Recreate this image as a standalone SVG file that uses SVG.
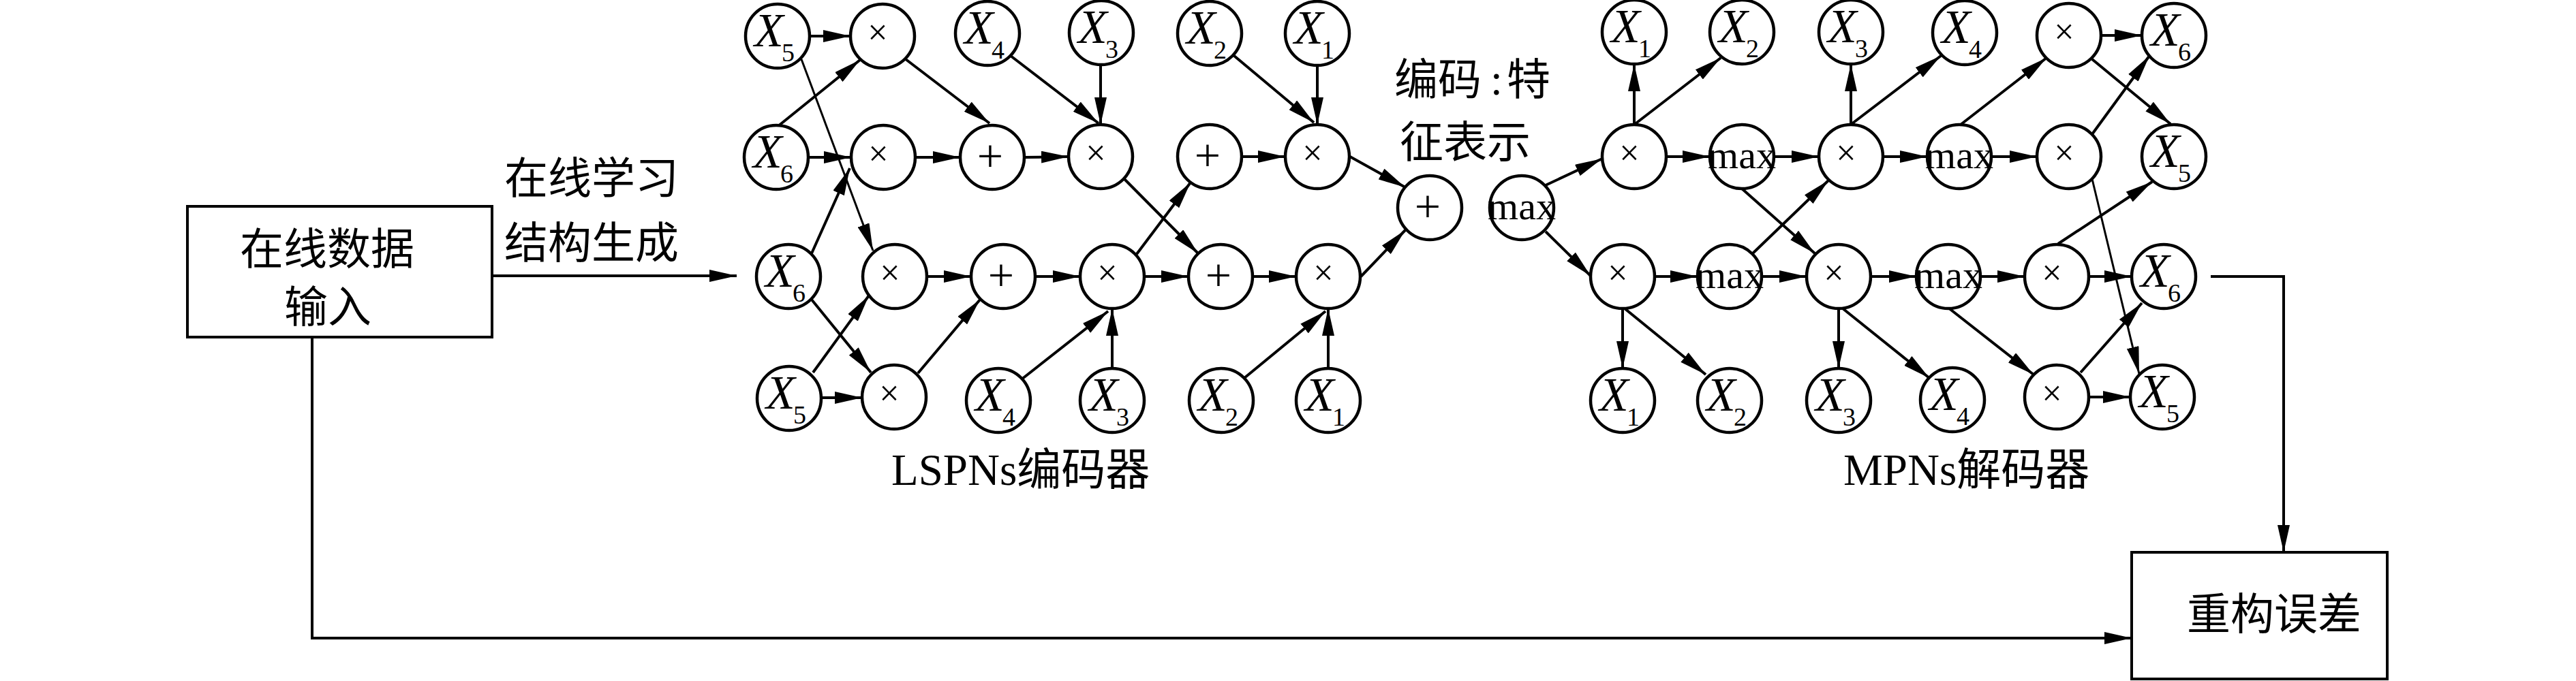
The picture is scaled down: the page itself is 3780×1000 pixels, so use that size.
<svg xmlns="http://www.w3.org/2000/svg" width="3780" height="1000" viewBox="0 0 3780 1000">
<defs>
<marker id="ah" viewBox="0 0 40 18" refX="40" refY="9" markerWidth="40" markerHeight="18" markerUnits="userSpaceOnUse" orient="auto"><path d="M0,0 L40,9 L0,18 z" fill="#000"/></marker>
<style>
.n circle{fill:#fff;stroke:#000;stroke-width:4.5}
.box{fill:#fff;stroke:#000;stroke-width:4}
.e line,.e polyline{stroke:#000;stroke-width:4;fill:none;marker-end:url(#ah)}
.e .t{stroke-width:3}
.xv{font-family:"Liberation Serif",serif;font-style:italic;font-size:70px}
.sb{font-family:"Liberation Serif",serif;font-size:38px}
.op{font-family:"Liberation Serif",serif;text-anchor:middle}
.mul{font-size:52px}
.add{font-size:68px}
.mx{font-size:58px}
.cn{font-family:"Liberation Serif","Noto Sans CJK SC",serif;font-size:64px}
.lb{font-family:"Liberation Serif","Noto Sans CJK SC",serif;font-size:65px}
</style>
</defs>
<rect width="3780" height="1000" fill="#fff"/>
<g id="connectors" class="e">
<line x1="722" y1="405" x2="1081" y2="405"/>
<polyline points="3244,406 3351,406 3351,811"/>
<polyline points="458,495 458,937 3128,937"/>
<line x1="1188" y1="53" x2="1248" y2="53"/>
<line x1="1142" y1="185" x2="1262" y2="88"/>
<line class="t" x1="1176" y1="87" x2="1281" y2="368"/>
<line x1="1186" y1="231" x2="1249" y2="231"/>
<line x1="1329" y1="87" x2="1452" y2="181"/>
<line x1="1343" y1="231" x2="1409" y2="231"/>
<line x1="1483" y1="82" x2="1612" y2="181"/>
<line x1="1615" y1="95" x2="1615" y2="183"/>
<line x1="1503" y1="231" x2="1568" y2="230"/>
<line x1="1191" y1="372" x2="1247" y2="247"/>
<line x1="1650" y1="263" x2="1758" y2="372"/>
<line x1="1668" y1="373" x2="1747" y2="268"/>
<line x1="1191" y1="440" x2="1278" y2="547"/>
<line x1="1193" y1="547" x2="1275" y2="434"/>
<line x1="1205" y1="584" x2="1265" y2="584"/>
<line x1="1360" y1="406" x2="1425" y2="406"/>
<line x1="1347" y1="548" x2="1438" y2="440"/>
<line x1="1519" y1="406" x2="1585" y2="406"/>
<line x1="1499" y1="557" x2="1626" y2="457"/>
<line x1="1632" y1="541" x2="1632" y2="453"/>
<line x1="1679" y1="406" x2="1744" y2="406"/>
<line x1="1811" y1="82" x2="1928" y2="180"/>
<line x1="1933" y1="96" x2="1933" y2="183"/>
<line x1="1822" y1="230" x2="1886" y2="230"/>
<line x1="1981" y1="230" x2="2062" y2="275"/>
<line x1="1838" y1="406" x2="1902" y2="406"/>
<line x1="1826" y1="555" x2="1945" y2="457"/>
<line x1="1949" y1="541" x2="1949" y2="453"/>
<line x1="1997" y1="406" x2="2062" y2="338"/>
<line x1="2268" y1="272" x2="2351" y2="233"/>
<line x1="2268" y1="340" x2="2334" y2="405"/>
<line x1="2398" y1="183" x2="2398" y2="94"/>
<line x1="2398" y1="183" x2="2525" y2="85"/>
<line x1="2445" y1="230" x2="2509" y2="230"/>
<line x1="2603" y1="230" x2="2669" y2="230"/>
<line x1="2556" y1="277" x2="2663" y2="372"/>
<line x1="2572" y1="372" x2="2683" y2="265"/>
<line x1="2716" y1="183" x2="2716" y2="94"/>
<line x1="2717" y1="182" x2="2848" y2="82"/>
<line x1="2763" y1="230" x2="2828" y2="230"/>
<line x1="2428" y1="406" x2="2491" y2="406"/>
<line x1="2585" y1="406" x2="2651" y2="406"/>
<line x1="2381" y1="453" x2="2381" y2="541"/>
<line x1="2384" y1="453" x2="2503" y2="550"/>
<line x1="2698" y1="453" x2="2698" y2="541"/>
<line x1="2704" y1="453" x2="2831" y2="555"/>
<line x1="2745" y1="406" x2="2812" y2="406"/>
<line x1="2877" y1="183" x2="3003" y2="85"/>
<line x1="2922" y1="230" x2="2989" y2="230"/>
<line x1="3083" y1="52" x2="3143" y2="52"/>
<line x1="3070" y1="87" x2="3185" y2="182"/>
<line x1="3070" y1="197" x2="3154" y2="82"/>
<line class="t" x1="3070" y1="263" x2="3139" y2="549"/>
<line x1="3020" y1="358" x2="3158" y2="267"/>
<line x1="2906" y1="406" x2="2971" y2="406"/>
<line x1="2859" y1="452" x2="2984" y2="550"/>
<line x1="3065" y1="406" x2="3128" y2="406"/>
<line x1="3053" y1="547" x2="3143" y2="445"/>
<line x1="3065" y1="583" x2="3126" y2="583"/>
</g>
<g id="input-box"><rect class="box" x="275" y="303" width="447" height="192"/><text class="cn" x="480" y="388" text-anchor="middle">在线数据</text><text class="cn" x="481" y="473" text-anchor="middle">输入</text></g>
<g id="error-box"><rect class="box" x="3128" y="811" width="375" height="186"/><text class="cn" x="3337" y="924" text-anchor="middle">重构误差</text></g>
<g id="label-learn"><text class="cn" x="740" y="284">在线学习</text><text class="cn" x="740" y="379">结构生成</text></g>
<g id="label-feature"><text class="cn" x="2046" y="139">编码<tspan x="2187">:</tspan><tspan x="2211">特</tspan></text><text class="cn" x="2054" y="231">征表示</text></g>
<g id="label-encoder"><text class="lb" x="1308" y="712">LSPNs编码器</text></g>
<g id="label-decoder"><text class="lb" x="2705" y="712">MPNs解码器</text></g>
<g id="e-x5a" class="n"><circle cx="1141" cy="53" r="47"/><text class="xv" x="1107" y="68">X</text><text class="sb" x="1147" y="90">5</text></g>
<g id="e-m1a" class="n"><circle cx="1295" cy="53" r="47"/><text class="op mul" x="1288" y="65">×</text></g>
<g id="e-x4a" class="n"><circle cx="1449" cy="49" r="47"/><text class="xv" x="1415" y="64">X</text><text class="sb" x="1455" y="86">4</text></g>
<g id="e-x3a" class="n"><circle cx="1616" cy="48" r="47"/><text class="xv" x="1582" y="63">X</text><text class="sb" x="1622" y="85">3</text></g>
<g id="e-x2a" class="n"><circle cx="1775" cy="49" r="47"/><text class="xv" x="1741" y="64">X</text><text class="sb" x="1781" y="86">2</text></g>
<g id="e-x1a" class="n"><circle cx="1933" cy="49" r="47"/><text class="xv" x="1899" y="64">X</text><text class="sb" x="1939" y="86">1</text></g>
<g id="e-x6a" class="n"><circle cx="1139" cy="231" r="47"/><text class="xv" x="1105" y="246">X</text><text class="sb" x="1145" y="268">6</text></g>
<g id="e-m2a" class="n"><circle cx="1296" cy="231" r="47"/><text class="op mul" x="1289" y="243">×</text></g>
<g id="e-p2" class="n"><circle cx="1456" cy="231" r="47"/><text class="op add" x="1453" y="252">+</text></g>
<g id="e-m2b" class="n"><circle cx="1615" cy="230" r="47"/><text class="op mul" x="1608" y="242">×</text></g>
<g id="e-p2b" class="n"><circle cx="1775" cy="230" r="47"/><text class="op add" x="1772" y="251">+</text></g>
<g id="e-m2c" class="n"><circle cx="1933" cy="230" r="47"/><text class="op mul" x="1926" y="242">×</text></g>
<g id="e-x6b" class="n"><circle cx="1157" cy="406" r="47"/><text class="xv" x="1123" y="421">X</text><text class="sb" x="1163" y="443">6</text></g>
<g id="e-m3a" class="n"><circle cx="1313" cy="406" r="47"/><text class="op mul" x="1306" y="418">×</text></g>
<g id="e-p3" class="n"><circle cx="1472" cy="406" r="47"/><text class="op add" x="1469" y="427">+</text></g>
<g id="e-m3b" class="n"><circle cx="1632" cy="406" r="47"/><text class="op mul" x="1625" y="418">×</text></g>
<g id="e-p3b" class="n"><circle cx="1791" cy="406" r="47"/><text class="op add" x="1788" y="427">+</text></g>
<g id="e-m3c" class="n"><circle cx="1949" cy="406" r="47"/><text class="op mul" x="1942" y="418">×</text></g>
<g id="e-x5b" class="n"><circle cx="1158" cy="585" r="47"/><text class="xv" x="1124" y="600">X</text><text class="sb" x="1164" y="622">5</text></g>
<g id="e-m4a" class="n"><circle cx="1312" cy="583" r="47"/><text class="op mul" x="1305" y="595">×</text></g>
<g id="e-x4b" class="n"><circle cx="1465" cy="588" r="47"/><text class="xv" x="1431" y="603">X</text><text class="sb" x="1471" y="625">4</text></g>
<g id="e-x3b" class="n"><circle cx="1632" cy="588" r="47"/><text class="xv" x="1598" y="603">X</text><text class="sb" x="1638" y="625">3</text></g>
<g id="e-x2b" class="n"><circle cx="1792" cy="588" r="47"/><text class="xv" x="1758" y="603">X</text><text class="sb" x="1798" y="625">2</text></g>
<g id="e-x1b" class="n"><circle cx="1949" cy="588" r="47"/><text class="xv" x="1915" y="603">X</text><text class="sb" x="1955" y="625">1</text></g>
<g id="e-pout" class="n"><circle cx="2098" cy="305" r="47"/><text class="op add" x="2095" y="326">+</text></g>
<g id="d-max0" class="n"><circle cx="2233" cy="305" r="47"/><text class="op mx" x="2233" y="322">max</text></g>
<g id="d-x1a" class="n"><circle cx="2398" cy="47" r="47"/><text class="xv" x="2364" y="62">X</text><text class="sb" x="2404" y="84">1</text></g>
<g id="d-x2a" class="n"><circle cx="2556" cy="47" r="47"/><text class="xv" x="2522" y="62">X</text><text class="sb" x="2562" y="84">2</text></g>
<g id="d-x3a" class="n"><circle cx="2716" cy="47" r="47"/><text class="xv" x="2682" y="62">X</text><text class="sb" x="2722" y="84">3</text></g>
<g id="d-x4a" class="n"><circle cx="2883" cy="48" r="47"/><text class="xv" x="2849" y="63">X</text><text class="sb" x="2889" y="85">4</text></g>
<g id="d-n1" class="n"><circle cx="3036" cy="52" r="47"/><text class="op mul" x="3029" y="64">×</text></g>
<g id="d-x6a" class="n"><circle cx="3190" cy="52" r="47"/><text class="xv" x="3156" y="67">X</text><text class="sb" x="3196" y="89">6</text></g>
<g id="d-d1" class="n"><circle cx="2398" cy="230" r="47"/><text class="op mul" x="2391" y="242">×</text></g>
<g id="d-mx1" class="n"><circle cx="2556" cy="230" r="47"/><text class="op mx" x="2556" y="247">max</text></g>
<g id="d-d2" class="n"><circle cx="2716" cy="230" r="47"/><text class="op mul" x="2709" y="242">×</text></g>
<g id="d-mx2" class="n"><circle cx="2875" cy="230" r="47"/><text class="op mx" x="2875" y="247">max</text></g>
<g id="d-d3" class="n"><circle cx="3036" cy="230" r="47"/><text class="op mul" x="3029" y="242">×</text></g>
<g id="d-x5a" class="n"><circle cx="3190" cy="230" r="47"/><text class="xv" x="3156" y="245">X</text><text class="sb" x="3196" y="267">5</text></g>
<g id="d-d4" class="n"><circle cx="2381" cy="406" r="47"/><text class="op mul" x="2374" y="418">×</text></g>
<g id="d-mx3" class="n"><circle cx="2538" cy="406" r="47"/><text class="op mx" x="2538" y="423">max</text></g>
<g id="d-d5" class="n"><circle cx="2698" cy="406" r="47"/><text class="op mul" x="2691" y="418">×</text></g>
<g id="d-mx4" class="n"><circle cx="2859" cy="406" r="47"/><text class="op mx" x="2859" y="423">max</text></g>
<g id="d-d6" class="n"><circle cx="3018" cy="406" r="47"/><text class="op mul" x="3011" y="418">×</text></g>
<g id="d-x6b" class="n"><circle cx="3175" cy="406" r="47"/><text class="xv" x="3141" y="421">X</text><text class="sb" x="3181" y="443">6</text></g>
<g id="d-x1b" class="n"><circle cx="2381" cy="588" r="47"/><text class="xv" x="2347" y="603">X</text><text class="sb" x="2387" y="625">1</text></g>
<g id="d-x2b" class="n"><circle cx="2538" cy="588" r="47"/><text class="xv" x="2504" y="603">X</text><text class="sb" x="2544" y="625">2</text></g>
<g id="d-x3b" class="n"><circle cx="2698" cy="588" r="47"/><text class="xv" x="2664" y="603">X</text><text class="sb" x="2704" y="625">3</text></g>
<g id="d-x4b" class="n"><circle cx="2865" cy="587" r="47"/><text class="xv" x="2831" y="602">X</text><text class="sb" x="2871" y="624">4</text></g>
<g id="d-d7" class="n"><circle cx="3018" cy="583" r="47"/><text class="op mul" x="3011" y="595">×</text></g>
<g id="d-x5b" class="n"><circle cx="3173" cy="583" r="47"/><text class="xv" x="3139" y="598">X</text><text class="sb" x="3179" y="620">5</text></g>
</svg>
